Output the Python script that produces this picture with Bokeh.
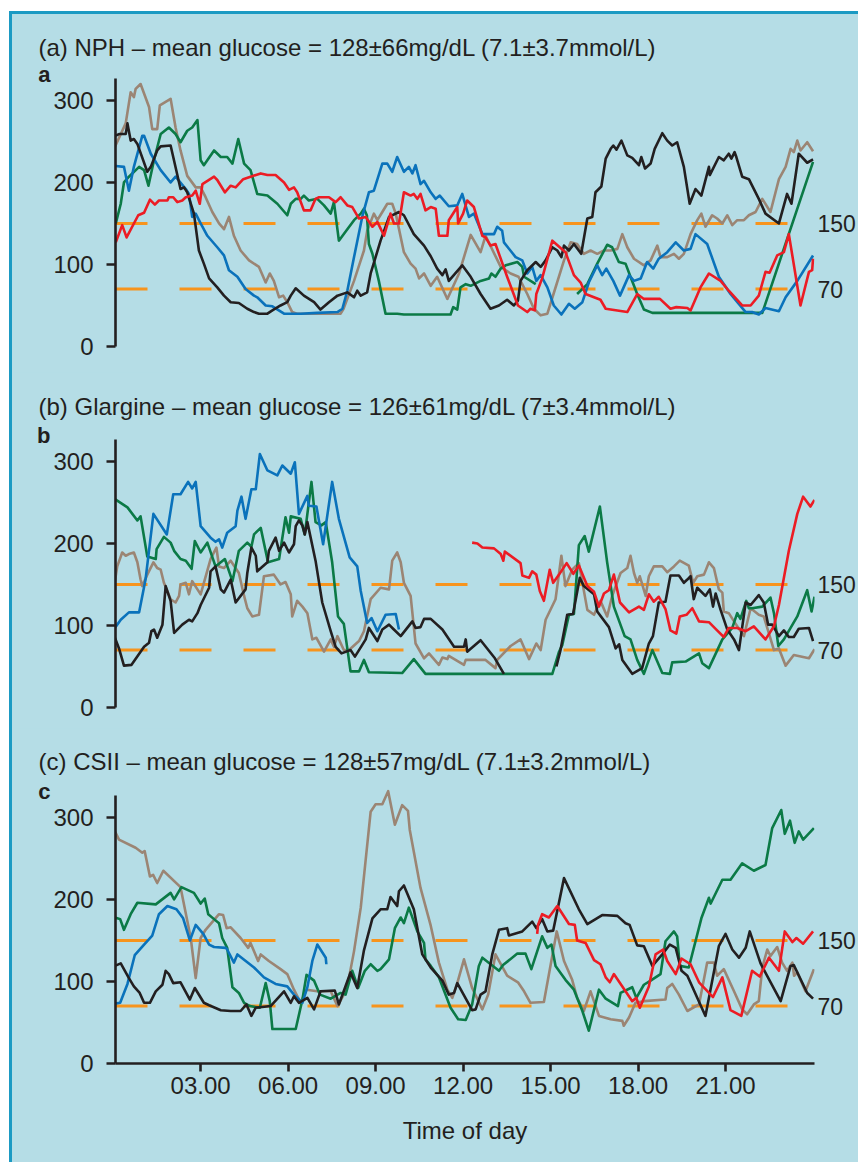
from bokeh.plotting import figure
from bokeh.models import Range1d, Span, LinearAxis, FixedTicker
from bokeh.layouts import column
from bokeh.embed import file_html
from bokeh.resources import INLINE

nan = float("nan")

# ---------------- data (hours of day, glucose mg/dL) ----------------
headings = ["(a) NPH \u2013 mean glucose = 128\u00b166mg/dL (7.1\u00b13.7mmol/L)",
            "(b) Glargine \u2013 mean glucose = 126\u00b161mg/dL (7\u00b13.4mmol/L)",
            "(c) CSII \u2013 mean glucose = 128\u00b157mg/dL (7.1\u00b13.2mmol/L)"]
letters = ["a", "b", "c"]
y_ticks = [0, 100, 200, 300]
target_levels = [70, 150]
x_ticks = [3, 6, 9, 12, 15, 18, 21]
x_tick_labels = ["03.00", "06.00", "09.00", "12.00", "15.00", "18.00", "21.00"]
x_title = "Time of day"

# Panel a (NPH)
a_brown_t = [0.03,0.43,0.6,0.71,0.77,0.94,1.23,1.34,1.51,1.6,1.97,2.14,2.31,2.54,2.83,3.0,3.17,3.4,3.63,3.8,3.97,4.14,4.37,4.66,5.0,5.23,5.37,5.51,5.69,5.83,5.97,6.14,6.3,7.8,7.9,8.26,8.6,8.71,8.94,9.06,9.23,9.4,9.57,9.69,9.97,10.2,10.37,10.49,10.66,10.89,11.11,11.46,11.86,12.26,12.6,12.77,13.29,13.63,13.9,14.2,14.43,14.66,14.89,15.1,15.46,15.69,15.91,16.14,16.37,16.6,16.83,17.06,17.29,17.46,17.63,17.86,18.2,18.43,18.66,18.77,19.0,19.23,19.4,19.57,19.8,20.03,20.17,20.31,20.54,20.71,20.89,21.06,21.23,21.4,21.63,21.8,22.03,22.26,22.54,22.83,23.06,23.23,23.34,23.46,23.57,23.8,24.0]
a_brown_v = [241,272,310,304,314,320,292,265,265,294,302,267,239,208,194,194,182,164,150,143,158,135,117,105,97,78,89,80,60,62,54,42,40,40,46,80,117,141,162,154,164,174,174,162,115,101,95,83,89,74,85,58,89,136,115,135,97,89,85,64,46,38,40,64,105,127,125,113,117,113,117,117,119,137,121,107,99,105,123,109,109,113,107,113,137,154,162,146,160,156,150,160,148,154,154,160,164,180,164,204,219,241,237,251,239,249,238]

a_green_t = [0.09,0.26,0.37,0.54,0.89,1.06,1.21,1.4,1.63,1.91,2.14,2.31,2.54,2.71,2.89,3.0,3.11,3.46,3.69,3.91,4.09,4.29,4.49,4.71,4.94,5.29,5.63,5.97,6.09,6.26,6.43,6.54,6.71,7.0,7.23,7.46,7.57,7.74,8.03,8.26,8.49,8.6,8.7,8.77,8.89,9.11,9.34,9.74,9.97,10.89,11.57,11.66,11.8,11.91,12.09,12.26,12.6,12.89,12.97,13.11,13.29,13.46,13.86,14.03,14.09,14.49,15.2,15.91,16.26,16.6,16.94,17.11,17.34,17.57,17.74,17.97,18.2,18.49,22.26,24.0]
a_green_v = [150,174,200,207,219,215,196,227,259,267,259,249,263,267,276,227,221,239,231,231,223,253,223,215,186,184,174,160,174,180,180,184,178,180,172,162,176,129,143,154,162,168,160,125,113,80,40,40,39,39,39,48,45,72,76,74,80,83,89,85,95,99,103,97,85,76,nan,64,76,101,124,121,103,101,85,64,45,41,41,225]

a_blue_t = [0.09,0.37,0.54,0.71,1.0,1.06,1.29,1.63,1.97,2.14,2.49,2.6,2.71,2.83,3.0,3.23,3.57,3.8,3.97,4.26,4.54,4.83,4.94,5.23,5.46,5.86,6.43,7.0,7.69,7.86,8.03,8.26,8.54,8.77,8.94,9.23,9.4,9.57,9.74,9.97,10.14,10.26,10.37,10.54,10.66,10.89,11.06,11.2,11.51,11.8,11.97,12.2,12.37,12.66,13.06,13.17,13.34,13.4,13.8,14.03,14.2,14.37,14.51,14.66,14.89,15.11,15.37,15.63,15.83,16.09,16.31,16.6,16.77,16.91,17.15,17.38,17.69,17.86,18.09,18.31,18.52,18.71,19.0,19.29,19.57,19.8,19.97,20.37,20.77,21.17,21.69,21.91,22.14,22.37,22.83,23.06,23.46,24.0]
a_blue_v = [220,219,190,219,257,257,235,215,200,207,192,186,158,162,150,135,121,111,93,85,70,62,60,50,49,40,40,41,42,46,68,109,158,188,190,223,223,213,231,213,219,211,221,198,202,188,180,184,171,172,186,158,162,137,137,146,141,127,109,105,89,97,80,87,72,50,39,52,46,54,78,99,87,95,80,62,87,80,83,103,95,107,115,127,117,119,137,125,85,64,42,42,39,47,43,60,80,111]

a_black_t = [0.09,0.2,0.43,0.49,0.6,0.71,0.83,1.17,1.29,1.51,1.63,1.97,2.31,2.43,2.54,2.77,2.94,3.11,3.29,3.57,3.8,4.03,4.31,4.6,4.83,5.0,5.29,5.46,5.74,5.97,6.09,6.26,6.54,6.89,7.11,7.4,7.69,8.03,8.26,8.37,8.49,8.71,8.83,9.17,9.46,9.8,9.97,10.31,10.66,10.89,11.11,11.29,11.4,11.51,11.97,12.26,12.6,12.94,13.23,13.51,13.74,13.88,13.97,14.2,14.49,14.66,14.83,15.06,15.23,15.37,15.46,15.63,15.8,16.05,16.26,16.43,16.54,16.74,16.89,17.06,17.15,17.26,17.43,17.63,17.8,18.03,18.11,18.24,18.43,18.57,18.83,19.0,19.17,19.34,19.57,19.77,19.97,20.17,20.43,20.46,20.77,20.94,21.11,21.2,21.31,21.37,21.57,21.8,22.14,22.37,22.83,23.11,23.26,23.51,23.8,24.0]
a_black_v = [257,259,259,272,251,253,247,213,219,239,244,245,192,194,188,162,117,101,83,72,62,54,53,46,42,40,40,44,50,54,62,71,62,54,45,54,62,66,60,68,62,66,89,129,158,164,160,137,123,110,95,87,94,80,99,85,64,46,50,57,50,56,80,93,103,97,105,121,117,109,123,117,125,113,156,158,188,195,229,241,245,240,251,233,230,221,231,217,223,241,260,251,245,249,219,174,192,184,219,209,231,227,235,229,237,231,207,204,180,162,150,186,174,235,224,228]

a_red_t = [0.09,0.31,0.46,0.86,1.06,1.26,1.43,1.57,1.86,1.91,2.06,2.2,2.37,2.49,2.71,2.83,2.97,3.06,3.46,3.57,3.83,4.03,4.2,4.46,5.06,5.29,5.57,5.86,6.03,6.2,6.31,6.54,6.77,6.94,7.06,7.4,7.63,7.8,8.03,8.2,8.43,8.66,8.89,9.06,9.29,9.51,9.63,9.8,9.97,10.2,10.31,10.43,10.54,10.71,10.89,11.06,11.17,11.46,11.51,11.8,11.83,12.0,12.14,12.37,12.66,12.77,12.94,13.11,13.51,13.88,14.2,14.31,14.46,14.51,14.71,15.06,15.51,15.8,16.03,16.2,16.71,16.89,17.63,17.97,18.2,18.43,18.75,19.11,19.31,19.69,19.8,20.14,20.43,20.83,21.11,21.57,21.86,22.14,22.37,22.51,22.77,23.0,23.17,23.57,23.86,23.97,24.0]
a_red_v = [127,148,133,160,163,179,173,178,178,182,182,176,178,182,184,190,174,198,207,203,188,196,194,204,211,209,209,200,191,194,188,166,166,180,182,182,176,182,172,170,156,158,146,152,135,162,150,150,188,184,186,180,186,166,170,168,135,135,154,170,150,162,178,170,135,133,123,125,85,50,42,46,44,64,83,129,115,87,78,64,57,46,42,64,58,58,58,46,48,47,44,72,89,80,68,50,50,62,91,90,111,115,137,50,91,93,107]

# Panel b (glargine)
b_brown_t = [0.06,0.14,0.31,0.43,0.54,0.71,0.83,0.94,1.0,1.17,1.38,1.51,1.63,1.74,1.97,2.14,2.26,2.31,2.49,2.6,2.71,2.89,3.0,3.34,3.54,3.63,3.8,4.03,4.31,4.49,4.6,4.77,5.0,5.17,5.51,5.74,5.91,6.09,6.14,6.31,6.49,6.66,6.83,6.97,7.23,7.46,7.57,7.69,7.91,8.09,8.43,8.6,8.83,9.17,9.46,9.57,9.74,9.86,9.97,10.2,10.37,10.66,10.83,11.17,11.29,11.46,11.51,12.03,12.09,12.77,13.11,13.17,13.63,13.97,14.26,14.51,14.66,14.83,15.17,15.37,15.51,15.74,15.97,16.26,16.49,16.71,16.94,17.11,17.4,17.63,17.74,17.86,17.97,18.06,18.26,18.37,18.54,18.83,19.0,19.23,19.43,19.74,19.89,20.03,20.26,20.43,20.6,20.77,20.89,20.94,21.11,21.29,21.63,21.86,22.14,22.31,22.66,22.83,23.06,23.34,23.86,24.05]
b_brown_v = [154,172,189,185,187,189,177,156,148,162,177,170,168,152,132,128,136,150,152,138,154,144,138,181,195,172,170,179,164,136,121,111,113,160,162,150,153,138,111,130,123,115,83,85,68,83,74,87,70,70,81,93,132,146,144,179,189,177,152,136,78,60,66,52,61,59,63,52,58,58,48,58,75,83,59,78,70,107,132,185,148,168,176,119,113,130,111,136,164,170,185,164,152,160,136,160,172,172,165,172,179,173,152,160,162,177,170,144,140,117,115,105,87,121,113,111,70,72,51,64,60,71]

b_green_t = [0.06,0.49,0.83,0.94,1.17,1.46,1.49,1.74,1.97,2.09,2.31,2.49,2.69,2.8,3.0,3.23,3.51,3.83,4.09,4.31,4.6,4.74,4.83,5.06,5.31,5.69,5.91,6.03,6.09,6.43,6.57,6.8,6.94,7.14,7.29,7.51,7.71,7.91,8.14,8.43,8.6,8.77,9.91,10.31,10.71,15.06,15.29,15.4,15.63,15.8,15.97,16.17,16.31,16.69,16.94,17.17,17.54,17.74,17.97,18.2,18.49,18.83,19.09,19.17,19.63,20.09,20.2,20.43,20.89,21.23,21.4,21.51,21.71,21.8,21.91,22.26,22.54,22.66,22.81,23.0,23.46,23.8,23.95,24.05]
b_green_v = [254,244,228,233,184,181,193,208,201,191,181,179,169,203,189,201,172,181,154,191,201,196,211,219,177,181,232,213,233,230,211,275,226,222,226,177,111,102,44,44,58,43,42,59,41,41,68,76,113,114,198,209,190,245,177,123,87,83,58,41,70,42,41,55,56,66,54,48,83,97,115,108,130,121,121,123,134,115,75,83,111,143,117,135]

b_blue_t = [0.06,0.26,0.54,0.89,1.11,1.38,1.84,2.06,2.31,2.57,2.71,2.83,3.0,3.34,3.51,3.63,3.74,3.91,4.2,4.26,4.4,4.54,4.74,4.89,5.03,5.29,5.63,5.8,6.09,6.23,6.37,6.66,6.71,6.97,7.2,7.51,7.74,8.11,8.37,8.49,8.71,8.86,9.06,9.34,9.69,9.8]
b_blue_v = [97,107,116,116,156,236,211,260,260,275,267,275,221,207,202,205,195,213,221,240,257,230,266,266,309,289,283,295,285,299,236,258,246,245,199,275,230,183,172,142,103,109,93,113,114,95]

b_black_t = [0.06,0.2,0.37,0.63,1.06,1.23,1.31,1.4,1.51,1.69,1.8,1.97,2.09,2.37,2.6,2.71,2.89,3.0,3.29,3.34,3.51,3.69,3.8,4.03,4.2,4.54,4.6,4.74,4.89,4.94,5.29,5.34,5.57,5.69,5.86,6.03,6.2,6.26,6.37,6.49,6.57,6.66,6.94,7.17,7.46,7.63,7.83,8.14,8.29,8.43,8.66,8.77,9.06,9.23,9.46,9.6,9.86,10.26,10.37,10.54,10.66,10.89,11.29,11.69,12.03,12.09,12.14,12.6,13.09,13.4,14.0,15.2,15.34,15.57,15.77,16.0,16.14,16.49,16.6,17.0,17.23,17.35,17.46,17.8,18.14,18.37,18.51,18.71,18.94,19.11,19.4,19.57,19.69,19.8,19.91,20.03,20.31,20.46,20.57,20.66,20.83,21.06,21.29,21.46,21.69,21.86,22.14,22.31,22.46,22.6,22.83,23.0,23.17,23.34,23.51,23.86,24.0]
b_black_v = [85,72,51,52,74,79,93,95,85,101,148,130,91,101,107,105,115,125,146,166,172,144,140,156,128,144,164,195,185,166,177,191,207,191,201,189,199,221,228,222,211,226,179,128,93,74,66,70,62,70,83,97,81,95,101,96,87,105,97,98,108,108,95,74,74,83,68,82,60,41,nan,50,70,113,114,158,148,138,117,98,72,77,58,41,48,78,87,128,129,161,161,152,156,160,132,146,136,144,123,139,119,95,83,70,128,125,137,128,101,101,87,94,86,86,96,97,81]

b_red_t = [12.31,12.49,12.66,13.06,13.29,13.38,13.43,13.97,14.03,14.26,14.37,14.51,14.63,14.77,14.97,15.09,15.29,15.55,15.78,15.97,16.26,16.49,16.66,16.83,17.0,17.17,17.38,17.69,18.03,18.2,18.37,18.54,18.71,18.94,19.11,19.31,19.43,19.66,19.86,20.09,20.43,20.71,20.94,21.11,21.4,21.69,21.97,22.37,22.66,22.83,23.17,23.46,23.66,23.91,24.05]
b_red_v = [201,200,195,194,187,179,190,176,161,158,166,162,142,130,168,152,162,176,163,173,148,141,123,139,143,162,128,116,123,119,138,129,135,120,94,90,111,113,121,105,104,94,86,97,97,93,99,83,99,125,191,236,257,245,253]

# Panel c (CSII)
c_brown_t = [0.06,0.2,0.77,1.0,1.08,1.26,1.37,1.51,1.72,2.31,2.66,2.83,3.0,3.17,3.63,3.77,3.89,4.03,4.37,4.63,4.71,4.97,5.06,5.34,5.74,5.97,6.2,6.43,6.63,7.0,7.46,7.69,7.91,8.09,8.26,8.49,8.83,9.0,9.23,9.43,9.66,9.91,10.11,10.17,10.54,10.89,11.17,11.46,11.63,11.8,12.03,12.31,12.66,12.86,13.11,13.51,13.88,14.09,14.31,14.77,15.21,15.46,15.74,15.91,16.14,16.37,16.66,17.06,17.46,17.51,17.69,17.91,18.2,18.94,19.0,19.17,19.4,19.69,20.09,20.37,20.6,20.71,20.94,21.29,21.57,21.74,21.97,22.14,22.26,22.43,22.54,22.77,22.94,23.11,23.29,23.35,23.46,23.74,24.03]
c_brown_v = [283,273,263,257,259,228,230,220,235,215,153,104,153,163,182,181,165,166,153,141,147,125,133,125,115,109,90,74,90,88,88,70,84,105,137,190,307,316,316,332,291,315,308,285,214,168,123,90,80,98,127,92,66,84,133,107,99,88,74,75,161,125,102,80,64,88,58,54,52,46,56,74,76,78,92,97,84,64,72,123,123,107,115,88,66,60,72,76,117,139,131,142,123,113,123,107,111,88,115]

c_green_t = [0.06,0.24,0.37,0.6,0.83,1.46,1.97,2.09,2.34,2.77,3.0,3.14,3.26,3.46,3.63,3.74,3.91,4.09,4.31,4.49,4.69,5.03,5.23,5.37,5.46,6.26,6.49,6.63,6.89,7.09,7.46,7.8,7.97,8.2,8.4,8.63,8.83,9.06,9.17,9.46,9.66,9.86,9.97,10.14,10.43,10.66,10.71,10.89,11.17,11.57,11.83,12.09,12.31,12.54,12.66,13.23,13.37,13.86,14.14,14.34,14.71,14.89,15.03,15.17,15.51,15.8,16.09,16.31,16.66,16.89,17.31,17.4,17.8,17.94,18.2,18.43,18.77,18.94,19.23,19.34,19.43,19.74,20.17,20.43,20.49,20.89,21.17,21.57,21.97,22.37,22.6,22.91,23.03,23.21,23.37,23.51,23.66,24.03]
c_green_v = [178,176,163,182,196,194,208,200,215,208,195,201,182,176,171,153,141,93,86,74,70,68,98,76,42,42,78,108,101,84,79,86,84,113,92,113,121,113,115,127,165,178,171,190,161,147,127,119,105,68,54,53,72,119,129,113,120,134,134,115,155,141,145,119,102,90,64,40,90,79,70,86,93,80,96,101,109,149,161,155,119,117,177,202,195,224,224,244,235,242,287,309,280,296,269,283,273,287]

c_blue_t = [0.06,0.24,0.49,0.74,1.06,1.34,1.57,1.86,2.17,2.4,2.63,2.83,3.09,3.29,3.46,3.86,3.91,4.14,4.26,4.83,5.17,5.57,5.97,6.2,6.49,6.66,6.83,7.0,7.29,7.31]
c_blue_v = [73,74,97,132,145,156,182,192,188,177,150,169,158,145,142,141,139,123,133,117,105,97,94,84,74,93,125,145,129,121]

c_black_t = [0.06,0.26,0.54,0.71,0.91,1.06,1.26,1.46,1.69,1.8,1.91,2.06,2.31,2.63,2.8,3.11,3.29,3.69,4.03,4.37,4.57,4.74,4.89,5.4,5.86,6.09,6.2,6.37,6.66,6.89,7.11,7.6,7.74,8.14,8.37,8.6,8.89,9.17,9.4,9.51,9.74,9.8,9.97,10.31,10.6,10.89,11.29,11.51,11.69,11.8,12.31,12.43,12.6,12.77,13.0,13.23,13.51,13.57,14.03,14.37,14.51,14.71,14.89,15.09,15.46,15.97,16.26,16.77,17.29,17.57,17.71,17.97,18.2,18.49,18.83,19.09,19.29,19.49,19.69,20.31,20.77,21.0,21.23,21.46,21.69,21.83,22.2,22.89,23.23,23.34,23.8,24.0]
c_black_v = [119,122,104,94,86,74,74,88,96,113,109,98,99,78,92,74,71,65,64,64,72,58,68,70,88,74,82,74,80,66,88,89,72,111,92,138,177,188,188,203,192,210,217,188,133,117,101,84,86,98,65,66,84,88,133,163,165,156,161,173,165,176,161,162,226,188,170,181,180,171,169,144,143,119,133,145,141,113,107,58,143,158,139,129,141,161,122,76,119,120,86,79]

c_red_t = [14.54,14.57,14.71,14.94,15.23,15.63,15.83,15.91,16.2,16.49,16.71,16.89,17.03,17.17,17.46,17.8,17.94,18.06,18.37,18.6,18.86,19.0,19.29,19.49,19.8,20.09,20.57,20.89,21.17,21.54,21.91,22.17,22.49,22.83,23.03,23.29,23.43,23.66,24.0]
c_red_v = [158,169,182,178,192,170,169,150,147,126,121,105,99,109,94,76,80,68,94,133,139,125,109,128,121,99,81,105,65,58,113,106,129,113,161,148,153,146,161]

panels = [
    [("brown", a_brown_t, a_brown_v), ("green", a_green_t, a_green_v), ("blue", a_blue_t, a_blue_v),
     ("black", a_black_t, a_black_v), ("red", a_red_t, a_red_v)],
    [("brown", b_brown_t, b_brown_v), ("green", b_green_t, b_green_v), ("blue", b_blue_t, b_blue_v),
     ("black", b_black_t, b_black_v), ("red", b_red_t, b_red_v)],
    [("brown", c_brown_t, c_brown_v), ("green", c_green_t, c_green_v), ("blue", c_blue_t, c_blue_v),
     ("black", c_black_t, c_black_v), ("red", c_red_t, c_red_v)],
]

# ---------------- styling ----------------
BG = "#b5dde6"
FRAME = "#1b9ac3"
INK = "#231f20"
ORANGE = "#f7941d"
COLORS = {"brown": "#9b8574", "green": "#0b7a46", "blue": "#0a72bb", "black": "#231f20", "red": "#ec1c24"}
FONT = "Liberation Sans"
FS = "24px"

X0, X1 = 0.08, 24.05
Y1 = 345
AXIS_TOP = 327
LETTER_POS = 332


def style_axis(ax, tick_out):
    ax.axis_line_color = INK
    ax.axis_line_width = 2.6
    ax.major_tick_line_color = INK
    ax.major_tick_line_width = 2.6
    ax.major_tick_out = tick_out
    ax.major_tick_in = 0
    ax.minor_tick_line_color = None
    ax.major_label_text_font = FONT
    ax.major_label_text_font_size = FS
    ax.major_label_text_color = INK


def make_panel(i, top, bottom, show_x, title_standoff):
    p = figure(frame_width=699, frame_height=283,
               x_range=Range1d(X0, X1), y_range=Range1d(0, Y1),
               output_backend="svg", toolbar_location=None,
               min_border_left=103, min_border_right=44,
               min_border_top=top, min_border_bottom=bottom,
               background_fill_color=BG, border_fill_color=BG,
               outline_line_color=None,
               x_axis_location="below" if show_x else None,
               title=headings[i])
    p.grid.visible = False

    p.title.align = "left"
    p.title.offset = -77
    p.title.standoff = title_standoff
    p.title.text_font = FONT
    p.title.text_font_size = FS
    p.title.text_font_style = "normal"
    p.title.text_color = INK

    ya = p.yaxis[0]
    ya.ticker = FixedTicker(ticks=y_ticks)
    ya.bounds = (0, AXIS_TOP)
    style_axis(ya, 9)
    ya.major_label_standoff = 13

    # panel letter (bold) as an outer left axis label
    la = LinearAxis(ticker=FixedTicker(ticks=[LETTER_POS]),
                    major_label_overrides={LETTER_POS: letters[i]},
                    axis_line_color=None, major_tick_line_color=None,
                    minor_tick_line_color=None, major_tick_out=0, major_tick_in=0,
                    major_label_standoff=0, major_label_text_font=FONT,
                    major_label_text_font_size="22px",
                    major_label_text_font_style="bold",
                    major_label_text_color=INK)
    p.add_layout(la, "left")

    ra = LinearAxis(ticker=FixedTicker(ticks=target_levels),
                    axis_line_color=None, major_tick_line_color=None,
                    minor_tick_line_color=None, major_tick_out=0, major_tick_in=0,
                    major_label_text_font=FONT, major_label_text_font_size="23px",
                    major_label_text_color=INK, major_label_standoff=3)
    p.add_layout(ra, "right")

    if show_x:
        xa = p.xaxis[0]
        xa.ticker = FixedTicker(ticks=x_ticks)
        xa.major_label_overrides = {t: s for t, s in zip(x_ticks, x_tick_labels)}
        style_axis(xa, 8)
        xa.major_label_standoff = 5
        xa.axis_label = x_title
        xa.axis_label_text_font = FONT
        xa.axis_label_text_font_size = FS
        xa.axis_label_text_font_style = "normal"
        xa.axis_label_text_color = INK
        xa.axis_label_standoff = 20

    for lv in target_levels:
        p.add_layout(Span(location=lv, dimension="width", line_color=ORANGE,
                          line_width=3, line_dash="32 32", level="underlay"))

    for name, t, v in panels[i]:
        p.line(t, v, line_color=COLORS[name], line_width=2.6, line_join="round")
    return p


pa = make_panel(0, 49, 26, False, 6)
pb = make_panel(1, 52, 21, False, 9)
pc = make_panel(2, 52, 99, True, 11)

layout = column(pa, pb, pc, spacing=0, margin=(11, 0, 0, 9),
                styles={"background-color": BG,
                        "border-left": "3px solid " + FRAME,
                        "border-top": "3px solid " + FRAME})

open("out.html", "w").write(file_html(layout, INLINE))
